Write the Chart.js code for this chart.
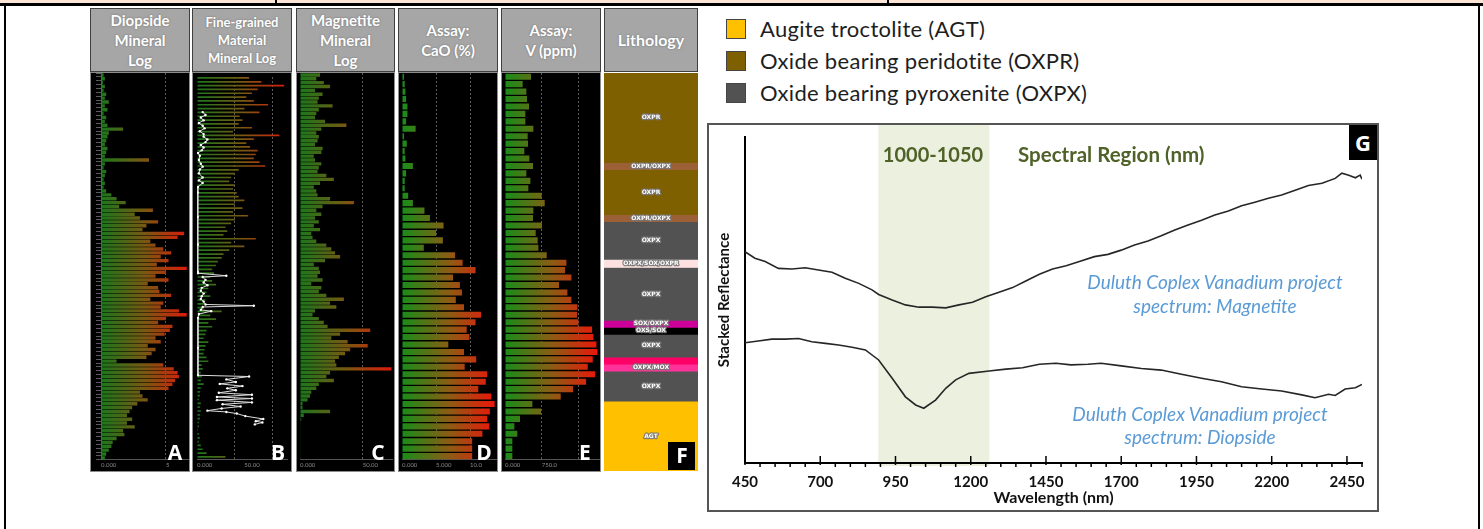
<!DOCTYPE html>
<html><head><meta charset="utf-8">
<script src="https://cdn.jsdelivr.net/npm/chart.js@4.4.0/dist/chart.umd.min.js"></script>
<style>
body{margin:0;width:1483px;height:529px;overflow:hidden;background:#fff;position:relative;font-family:Lato,'Open Sans',sans-serif;}
.abs{position:absolute;}
.hdr{position:absolute;top:8px;height:62px;background:#a6a6a6;border:1px solid #3f3f3f;color:#fff;font-weight:700;text-align:center;display:flex;flex-direction:column;justify-content:center;text-shadow:0 0 2px #6a6a6a;font-size:15px;line-height:20px;}
.panel{position:absolute;top:72px;height:398px;background:#000;border:1px solid #8c8c8c;}
.panel canvas{position:absolute;left:0;top:0;}
.let{position:absolute;color:#fff;font:700 21px 'Open Sans',Lato,sans-serif;line-height:21px;width:30px;text-align:center;}
.leg{position:absolute;left:726px;height:22px;font-size:22px;letter-spacing:0.3px;line-height:22px;color:#1e1e1e;white-space:nowrap;}
.leg span{display:inline-block;width:18px;height:18px;border:1px solid #444;vertical-align:top;margin-top:1px;margin-right:14px;}
.ann{position:absolute;text-align:center;white-space:nowrap;}
</style></head>
<body>
<!-- top strip and frame -->
<div class="abs" style="left:0;top:0;width:1483px;height:4px;background:#fbe5d6"></div>
<div class="abs" style="left:0;top:3px;width:1483px;height:3px;background:#000"></div>
<div class="abs" style="left:275px;top:0;width:2px;height:5px;background:#000"></div>
<div class="abs" style="left:887px;top:0;width:2px;height:5px;background:#000"></div>
<div class="abs" style="left:4px;top:4px;width:2px;height:530px;background:#000"></div>
<div class="abs" style="left:1478px;top:4px;width:2px;height:530px;background:#000"></div>

<!-- headers -->
<div class="hdr" style="left:90px;width:98px"><div>Diopside</div><div>Mineral</div><div>Log</div></div>
<div class="hdr" style="left:192px;width:98px;font-size:13px;line-height:18px"><div>Fine-grained</div><div>Material</div><div>Mineral Log</div></div>
<div class="hdr" style="left:296px;width:97px"><div>Magnetite</div><div>Mineral</div><div>Log</div></div>
<div class="hdr" style="left:398px;width:98px"><div>Assay:</div><div>CaO (%)</div></div>
<div class="hdr" style="left:501px;width:98px"><div>Assay:</div><div>V (ppm)</div></div>
<div class="hdr" style="left:604px;width:92px;font-size:16px"><div>Lithology</div></div>

<!-- panels -->
<div class="panel" style="left:90px;width:98px"><canvas id="cA" width="98" height="398"></canvas></div>
<div class="panel" style="left:192px;width:98px"><canvas id="cB" width="98" height="398"></canvas></div>
<div class="panel" style="left:296px;width:97px"><canvas id="cC" width="97" height="398"></canvas></div>
<div class="panel" style="left:398px;width:98px"><canvas id="cD" width="98" height="398"></canvas></div>
<div class="panel" style="left:501px;width:98px"><canvas id="cE" width="98" height="398"></canvas></div>
<canvas id="cF" class="abs" style="left:604px;top:73px" width="94" height="398"></canvas>

<div class="let" style="left:160px;top:442px">A</div>
<div class="let" style="left:263px;top:442px">B</div>
<div class="let" style="left:363px;top:442px">C</div>
<div class="let" style="left:469px;top:442px">D</div>
<div class="let" style="left:570px;top:442px">E</div>
<div class="abs" style="left:668px;top:442px;width:27px;height:28px;background:#000"></div>
<div class="let" style="left:667px;top:445px">F</div>

<!-- legend -->
<div id="legend"></div>

<!-- chart G -->
<div class="abs" style="left:707px;top:123px;width:668px;height:385px;border:2px solid #555"></div>
<canvas id="cG" class="abs" style="left:709px;top:125px" width="667" height="385"></canvas>
<div class="abs" style="left:1349px;top:125px;width:28px;height:35px;background:#000;color:#fff;font:700 22px 'Open Sans',sans-serif;line-height:35px;text-align:center">G</div>
<div class="ann" style="left:833px;width:200px;top:142px;font-size:20px;line-height:24px;font-weight:700;color:#4f6228">1000-1050</div>
<div class="ann" style="left:1018px;top:142px;font-size:20.5px;line-height:24px;font-weight:700;color:#4f6228">Spectral Region (nm)</div>
<div class="ann" style="left:1065px;width:300px;top:270px;font-size:19px;line-height:24px;font-style:italic;color:#5b9bd5">Duluth Coplex Vanadium project<br>spectrum: Magnetite</div>
<div class="ann" style="left:1050px;width:300px;top:402px;font-size:19px;line-height:23px;font-style:italic;color:#5b9bd5">Duluth Coplex Vanadium project<br>spectrum: Diopside</div>

<script>
// ================= DATA =================
// A: Diopside mineral log (downhole bins, top to bottom)
const diopsideLog = [0.2,0.3,0.15,0.3,0.2,0.4,0.3,0.6,0.3,0.5, 0.2,0.4,0.3,0.5,1.7,0.6,0.5,0.4,0.3,0.5,
  0.4,0.3,3.7,0.3,0.2,0.4,0.3,0.2,0.3,0.2, 0.4,0.8,1.2,1.9,1.4,4.0,2.6,3.0,4.4,3.5,
  3.2,6.4,5.9,3.8,4.2,4.8,5.4,4.6,5.2,4.3, 6.6,5.0,4.2,5.2,3.6,4.4,4.5,5.4,3.8,4.8,
  4.6,6.0,6.6,5.0,4.4,5.5,5.3,4.9,4.2,4.6, 3.6,4.2,3.9,3.5,1.2,4.8,5.6,5.9,6.0,5.7,
  5.5,5.2,3.0,3.2,3.6,2.8,2.4,2.2,2.0,2.4, 2.0,2.6,1.7,1.8,1.2,0.9,0.8,0.6,0.4,0.3];
const diopsideTicks = [0, 5];
const diopsideTickLabels = ['0.000', '5'];

// B: Fine-grained material mineral log (bars) + white trace
const fineGrainedLog = [55,68,92,64,58,52,60,75,50,66, 45,48,44,58,38,87,60,52,56,64,
  62,60,66,72,44,40,36,34,40,38, 42,44,50,40,48,38,54,40,36,30,
  32,28,62,36,50,34,28,26,22,20, 16,18,14,16,20,12,10,14,9,8,
  7,26,14,20,12,16,10,9,7,12, 9,8,7,10,12,5,6,4,5,4,
  7,4,3,3,2,4,3,4,3,3, 2,2,1,2,3,2,4,6,10,30];
const fineTraceDepth = [0.5,1.4,2.2,3.1,3.9,4.8,5.6,6.5,7.4,8.2, 9.1,9.9,10.8,11.6,12.5,13.3,14.2,15.5,16.7,17.6,
  18.5,19.7,21,21.9,22.7,24,25.7,33.4,42,50.5, 51,51.8,52.2,53.1,53.9,54.8,55.6,56.5,57.4,58.2,
  59.1,59.9,60.8,61.2,61.6,62.5,62.9,63.8,65,74.4, 83,83.4,84.3,85.1,85.7,86.4,87.1,87.7,88.5,89.1,
  89.8,90.3,90.8,91.5,92.1,92.8,93.4,94.1,94.5,95, 95.8,96.7,97.4,97.8,98.4];
const fineTraceValue = [6,9,4,7,2,6,8,3,7,7, 11,9,4,7,5,1,3,2,4,6,
  3,2,6,2,6,1,0.7,0.7,0.8,0.8, 1,31,6,9,7,11,5,4,7,5,
  4,7,9,60,6,4,15,2,1,1, 1,55,31,41,24,48,32,41,23,58,
  21,58,21,58,27,46,26,11,31,42, 51,70,62,69,61];
const fineTicks = [0, 40, 50, 80];
const fineTickLabels = ['0.000', '', '50.00', ''];

// C: Magnetite mineral log
const magnetiteLog = [16,13,19,24,12,18,15,14,26,15, 13,12,20,37,17,13,15,14,12,18,
  17,11,12,17,15,14,21,27,16,11, 13,14,24,43,18,13,17,12,15,11,
  16,9,10,13,21,25,28,32,20,11, 15,16,14,18,9,17,15,21,35,24,
  29,12,10,15,19,22,56,32,25,38, 54,40,36,31,28,29,73,24,21,27,
  15,13,9,8,6,2,2,24,3,1, 0.5,0.3,0.3,0.3,0.3,0.3,0.3,0.3,0.3,0.3];
const magnetiteTicks = [0, 50];
const magnetiteTickLabels = ['0.000', '50.00'];

// D: Assay CaO (%)
const caoAssay = [0.3,0.4,0.5,0.6,0.8,0.8,0.6,2.0,0.3,0.7, 0.4,0.5,1.6,0.6,0.4,0.4,0.9,1.6,3.3,4.1,
  6.1,5.0,6.0,3.2,7.8,8.9,10.8,7.5,8.5,8.8, 7.9,9.1,11.6,10.8,9.5,9.9,6.8,9.1,10.9,9.2,
  12.5,12.3,11.2,13.1,13.6,12.9,12.5,12.8,11.8,10.3, 10.3,10.3];
const caoTicks = [0, 5, 10];
const caoTickLabels = ['0.000', '5.000', '10.0'];

// E: Assay V (ppm)
const vAssay = [532,361,436,450,491,416,416,579,463,470, 395,497,572,436,518,477,750,811,579,572,
  756,627,668,682,852,1254,1227,1356,1104,1274, 1356,1479,1472,1499,1779,1806,1867,1888,1792,1690,
  1840,1656,1390,1138,559,736,307,191,252,150, 150,150];
const vTicks = [0, 750, 1500];
const vTickLabels = ['0.000', '750.0', ''];

// F: Lithology column (top to bottom)
const lithUnits = ['OXPR','OXPR/OXPX','OXPR','OXPR/OXPX','OXPX','OXPX/SOX/OXPR','OXPX','SOX/OXPX','OXS/SOX','OXPX','MOX','OXPX/MOX','OXPX','AGT'];
const lithShown = ['OXPR','OXPR/OXPX','OXPR','OXPR/OXPX','OXPX','OXPX/SOX/OXPR','OXPX','SOX/OXPX','OXS/SOX','OXPX','','OXPX/MOX','OXPX','AGT'];
const lithThickness = [90,7,45,7,38,8,53,7,7,23,7,7,30,70];

// Legend
const legendLabels = ['Augite troctolite (AGT)','Oxide bearing peridotite (OXPR)','Oxide bearing pyroxenite (OXPX)'];

// G: spectra (wavelength nm, stacked reflectance 0-100)
const magWl  = [450,483,517,561,606,650,694,739,783,828,872,894,939,983,1028,1072,1117,1161,1206,1250,1294,1339,1383,1428,1472,1517,1561,1611,1656,1700,1744,1789,1833,1878,1922,1967,2011,2056,2100,2144,2189,2233,2278,2322,2367,2411,2433,2456,2478,2494,2500];
const magRef = [64.8,62.8,61.8,59.7,59.5,59.9,59.2,58.5,56.7,55.1,53.1,51.7,50.0,48.5,47.8,47.8,47.6,48.5,49.3,51.0,52.4,53.8,55.8,57.9,59.5,60.5,61.8,63.3,64.0,65.3,66.9,68.1,69.7,71.5,73.0,74.5,76.1,77.3,78.9,80.0,81.2,82.2,83.7,85.1,85.8,87.3,88.9,88.3,87.5,88.3,87.1];
const dioWl  = [450,494,539,583,628,672,717,761,806,850,894,939,983,1017,1044,1083,1117,1150,1194,1261,1317,1372,1428,1483,1533,1589,1633,1700,1767,1833,1900,1967,2033,2100,2167,2233,2300,2344,2389,2411,2444,2478,2500];
const dioRef = [36.9,37.4,38.0,38.0,38.2,37.2,36.7,36.2,35.5,34.7,31.6,26.0,20.3,17.8,16.8,19.3,22.9,25.5,27.5,28.2,28.8,29.2,30.3,30.6,30.1,30.3,30.6,29.8,29.0,28.5,27.2,26.0,24.9,23.4,22.7,22.1,20.9,20.0,21.1,20.7,22.7,23.1,24.1];
const gTicks = [450,700,950,1200,1450,1700,1950,2200,2450];
const gMinorStep = 50;
const shadeRange = [893, 1262];

// ================= STYLES =================
const lithColors = ['#7f6000','#9c6037','#7f6000','#9c6037','#525252','#fde0e0','#525252','#cc0099','#000000','#525252','#ff0066','#ff3399','#525252','#ffc000'];
const legendColors = ['#ffc000','#7f6000','#525252'];
const logStops = [[0,'rgb(28,118,28)'],[0.5,'rgb(120,88,18)'],[1,'rgb(225,25,10)']];
const assayStops = [[0,'rgb(25,140,25)'],[0.5,'rgb(140,92,20)'],[1,'rgb(240,20,10)']];

Chart.defaults.font.family = "Lato, 'Open Sans', sans-serif";

// legend
document.getElementById('legend').innerHTML = legendLabels.map((l,i) =>
  `<div class="leg" style="top:${18+32*i}px"><span style="background:${legendColors[i]}"></span>${l}</div>`).join('');

function makeGrad(chart, stops){
  const ca = chart.chartArea; if(!ca) return stops[0][1];
  const key = ca.left+'_'+ca.right;
  if(chart.$grad && chart.$gradKey===key) return chart.$grad;
  const g = chart.ctx.createLinearGradient(ca.left,0,ca.right,0);
  stops.forEach(s=>g.addColorStop(s[0],s[1]));
  chart.$grad=g; chart.$gradKey=key; return g;
}

function barPanel(id, cfg){
  const labels = cfg.values.map((_,i)=>String(i+1));
  const datasets = [{type:'bar', data:cfg.values, yAxisID:'y', backgroundColor:c=>makeGrad(c.chart,cfg.stops),
    barPercentage:cfg.barPct, categoryPercentage:1, borderWidth:0, order:2}];
  if(cfg.trace){
    datasets.push({type:'line', data:cfg.trace, yAxisID:'y2', borderColor:'#dcdcdc', borderWidth:1,
      pointRadius:1.2, pointBackgroundColor:'#ffffff', pointBorderWidth:0, order:1});
  }
  const n = cfg.values.length;
  new Chart(document.getElementById(id), {
    type:'bar',
    data:{labels, datasets},
    options:{
      indexAxis:'y', responsive:false, animation:false, events:[],
      layout:{padding:{left:cfg.padL, right:cfg.padR, top:0, bottom:0}},
      plugins:{legend:{display:false}, tooltip:{enabled:false}},
      scales:{
        x:{type:'linear', min:0, max:cfg.max,
          afterBuildTicks:s=>{s.ticks=cfg.ticks.map(v=>({value:v}));},
          afterFit:s=>{s.paddingLeft=0; s.paddingRight=0;},
          ticks:{callback:(v,i)=>cfg.tickLabels[i], font:{size:6}, color:'#8a8a8a', padding:2, maxRotation:0, autoSkip:false, align:'start'},
          grid:{color:c=>(c.tick && c.tick.value!==0 && cfg.gridAt.includes(c.tick.value))?'#5c5c5c':'rgba(0,0,0,0)', drawTicks:false, lineWidth:1},
          border:{display:true, color:'#555', dash:[2,2]}
        },
        y:{type:'category', display:cfg.yAxis,
          ticks:{display:false},
          grid:{drawOnChartArea:false, tickLength:5, color:'#5a5a5a'},
          border:{color:'#6a6a6a'}
        },
        y2:{type:'linear', display:false, reverse:true, min:-0.5, max:n-0.5}
      }
    }
  });
}

barPanel('cA',{values:diopsideLog, stops:logStops, barPct:0.88, max:6.7, ticks:diopsideTicks, tickLabels:diopsideTickLabels, gridAt:[5], padL:5, padR:1, yAxis:true});
barPanel('cB',{values:fineGrainedLog, stops:logStops, barPct:0.88, max:95, ticks:fineTicks, tickLabels:fineTickLabels, gridAt:[40,80], padL:3, padR:0, yAxis:false,
  trace:fineTraceDepth.map((d,i)=>({x:fineTraceValue[i], y:d}))});
barPanel('cC',{values:magnetiteLog, stops:logStops, barPct:0.88, max:73.4, ticks:magnetiteTicks, tickLabels:magnetiteTickLabels, gridAt:[50], padL:3, padR:2, yAxis:false});
barPanel('cD',{values:caoAssay, stops:assayStops, barPct:0.82, max:13.8, ticks:caoTicks, tickLabels:caoTickLabels, gridAt:[5,10], padL:3, padR:1, yAxis:false});
barPanel('cE',{values:vAssay, stops:assayStops, barPct:0.82, max:1920, ticks:vTicks, tickLabels:vTickLabels, gridAt:[750,1500], padL:3, padR:1, yAxis:false});

// F lithology
const lithTotal = lithThickness.reduce((a,b)=>a+b,0);
const lithLabelPlugin = {id:'lithLabels', afterDatasetsDraw(chart){
  const ctx = chart.ctx; ctx.save();
  ctx.font = "bold 6px 'DejaVu Sans', sans-serif"; ctx.textAlign='center'; ctx.textBaseline='middle';
  chart.data.datasets.forEach((ds,i)=>{
    const txt = lithShown[i]; if(!txt) return;
    const el = chart.getDatasetMeta(i).data[0];
    const p = el.getProps(['x','y','base'], true);
    const cy = (p.y+p.base)/2;
    ctx.lineWidth = 2.5; ctx.strokeStyle = 'rgba(120,120,120,0.9)'; ctx.lineJoin='round';
    ctx.strokeText(txt, p.x, cy);
    ctx.fillStyle = '#ffffff'; ctx.fillText(txt, p.x, cy);
  });
  ctx.restore();
}};
new Chart(document.getElementById('cF'), {
  type:'bar',
  data:{labels:['Lithology'], datasets: lithUnits.map((u,i)=>({label:u, data:[lithThickness[i]], backgroundColor:lithColors[i], borderWidth:0, barPercentage:1, categoryPercentage:1, stack:'lith'}))},
  options:{responsive:false, animation:false, events:[], layout:{padding:0},
    plugins:{legend:{display:false}, tooltip:{enabled:false}},
    scales:{x:{display:false, stacked:true}, y:{display:false, stacked:true, reverse:true, min:0, max:lithTotal}}},
  plugins:[lithLabelPlugin]
});

// G spectra
const shadePlugin = {id:'shade', beforeDraw(chart){
  const {ctx, chartArea, scales:{x}} = chart;
  const x0 = x.getPixelForValue(shadeRange[0]), x1 = x.getPixelForValue(shadeRange[1]);
  ctx.save(); ctx.fillStyle = '#ebf1de'; ctx.fillRect(x0, 0, x1-x0, chartArea.bottom+3); ctx.restore();
}};
const tickPlugin = {id:'gticks', afterDraw(chart){
  const {ctx, chartArea, scales:{x}} = chart;
  ctx.save(); ctx.strokeStyle='#000'; ctx.lineWidth=1.5;
  for(let v=x.min; v<=x.max; v+=gMinorStep){
    const px = x.getPixelForValue(v);
    const major = gTicks.includes(v);
    ctx.beginPath();
    ctx.moveTo(px, major ? chartArea.bottom-7 : chartArea.bottom);
    ctx.lineTo(px, major ? chartArea.bottom+2 : chartArea.bottom+4);
    ctx.stroke();
  }
  ctx.restore();
}};
new Chart(document.getElementById('cG'), {
  type:'line',
  data:{datasets:[
    {label:'Magnetite', data:magWl.map((w,i)=>({x:w,y:magRef[i]})), borderColor:'#262626', borderWidth:1.6, pointRadius:0, tension:0},
    {label:'Diopside', data:dioWl.map((w,i)=>({x:w,y:dioRef[i]})), borderColor:'#262626', borderWidth:1.6, pointRadius:0, tension:0}
  ]},
  options:{responsive:false, animation:false, events:[],
    layout:{padding:{left:6, right:14, top:12, bottom:0}},
    plugins:{legend:{display:false}, tooltip:{enabled:false}},
    scales:{
      x:{type:'linear', min:450, max:2500,
        afterBuildTicks:s=>{s.ticks=gTicks.map(v=>({value:v}));},
        afterFit:s=>{s.height = 47;},
        ticks:{callback:v=>String(v), font:{size:15, weight:'bold'}, color:'#111', padding:10, maxRotation:0, autoSkip:false},
        grid:{display:false, drawTicks:false}, border:{display:true, color:'#000', width:2},
        title:{display:true, text:'Wavelength (nm)', font:{size:16, weight:'bold'}, color:'#111', padding:{top:0, bottom:3}}},
      y:{type:'linear', min:0, max:100, ticks:{display:false}, grid:{display:false},
        border:{display:true, color:'#000', width:2},
        afterFit:s=>{s.width = 30;},
        title:{display:true, text:'Stacked Reflectance', font:{size:15, weight:'bold'}, color:'#111', padding:{top:0,bottom:6}}}
    }},
  plugins:[shadePlugin, tickPlugin]
});
</script>
</body></html>
